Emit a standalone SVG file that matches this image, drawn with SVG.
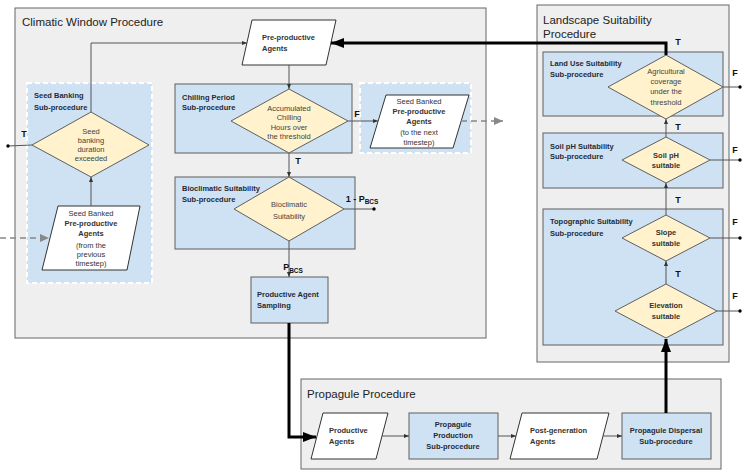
<svg xmlns="http://www.w3.org/2000/svg" width="748" height="475" viewBox="0 0 748 475">
<style>
.proc{fill:#efefef;stroke:#666;stroke-width:1}
.sub{fill:#cfe2f3;stroke:#5f5f5f;stroke-width:1}
.dash{fill:#cfe2f3;stroke:#fff;stroke-width:2;stroke-dasharray:5,3}
.dia{fill:#fff2cc;stroke:#5f5f5f;stroke-width:1}
.io{fill:#fff;stroke:#333;stroke-width:1}
text{font-family:"Liberation Sans",Arial,sans-serif}
.title{font-size:11.5px;fill:#222}
.lbl{font-size:7.5px;font-weight:bold;fill:#1f2a36}
.dt{font-size:7.5px;fill:#444;text-anchor:middle}
.dtb{font-size:7.5px;font-weight:bold;fill:#333;text-anchor:middle}
.iot{font-size:7.5px;fill:#333}
.c{text-anchor:middle}
.tf{font-size:9px;font-weight:bold;fill:#111;text-anchor:middle}
.sb{font-size:6.5px;font-weight:bold;fill:#111}
.ln{fill:none;stroke:#555;stroke-width:1}
.thick{fill:none;stroke:#000;stroke-width:3}
.dl{fill:none;stroke:#888;stroke-width:1.3;stroke-dasharray:6,4}
</style>
<defs>
<marker id="a" markerUnits="userSpaceOnUse" markerWidth="5" markerHeight="5" refX="5" refY="2.5" orient="auto"><path d="M0,0.5L5,2.5L0,4.5z" fill="#333"/></marker>
<marker id="ag" markerUnits="userSpaceOnUse" markerWidth="9" markerHeight="8" refX="9" refY="4" orient="auto"><path d="M0,0L9,4L0,8z" fill="#888"/></marker>
<marker id="ab" markerUnits="userSpaceOnUse" markerWidth="13" markerHeight="10" refX="13" refY="5" orient="auto"><path d="M0,0L13,5L0,10z" fill="#000"/></marker>
<marker id="d" markerUnits="userSpaceOnUse" markerWidth="4" markerHeight="4" refX="2" refY="2"><circle cx="2" cy="2" r="1.7" fill="#000"/></marker>
</defs>

<g id="climatic-window">
<rect class="proc" x="15" y="8" width="471" height="330"/>
<text class="title" x="22" y="26">Climatic Window Procedure</text>
</g>
<g id="landscape">
<rect class="proc" x="537" y="5" width="192" height="357"/>
<text class="title" x="543" y="24">Landscape Suitability</text>
<text class="title" x="543" y="37.5">Procedure</text>
</g>
<g id="propagule">
<rect class="proc" x="301" y="379" width="420" height="90"/>
<text class="title" x="307" y="398">Propagule Procedure</text>
</g>

<g id="seed-banking">
<rect class="dash" x="27" y="83" width="125" height="200"/>
<text class="lbl" x="34" y="98">Seed Banking</text>
<text class="lbl" x="34" y="110">Sub-procedure</text>
</g>
<g id="seed-banking-decision">
<polygon class="dia" points="91,112 149,145 91,177 32,145"/>
<text class="dt" x="91" y="133.5">Seed</text>
<text class="dt" x="91" y="142.8">banking</text>
<text class="dt" x="91" y="152">duration</text>
<text class="dt" x="91" y="161.3">exceeded</text>
</g>
<g id="seed-banked-prev">
<polygon class="io" points="58,206 140,206 127,270 42,270"/>
<text class="iot c" x="91" y="216">Seed Banked</text>
<text class="iot c" x="91" y="225.5" font-weight="bold">Pre-productive</text>
<text class="iot c" x="91" y="236" font-weight="bold">Agents</text>
<text class="iot c" x="91" y="247.7">(from the</text>
<text class="iot c" x="91" y="257">previous</text>
<text class="iot c" x="91" y="266">timestep)</text>
</g>

<g id="pre-productive">
<polygon class="io" points="252,20 336,20 326,65 242,65"/>
<text class="iot" x="262" y="40" font-weight="bold">Pre-productive</text>
<text class="iot" x="262" y="51" font-weight="bold">Agents</text>
</g>

<g id="chilling">
<rect class="sub" x="175" y="84" width="177" height="69"/>
<text class="lbl" x="182" y="99.5">Chilling Period</text>
<text class="lbl" x="182" y="110">Sub-procedure</text>
<polygon class="dia" points="289,89 348,121 289,153 231,121"/>
<text class="dt" x="289" y="111">Accumulated</text>
<text class="dt" x="289" y="120">Chilling</text>
<text class="dt" x="289" y="129.5">Hours over</text>
<text class="dt" x="289" y="138.7">the threshold</text>
</g>

<g id="seed-banked-next">
<rect class="dash" x="360" y="83" width="111" height="70"/>
<polygon class="io" points="386,95 469,95 453,148 370,148"/>
<text class="iot c" x="419" y="103.5">Seed Banked</text>
<text class="iot c" x="419" y="113.7" font-weight="bold">Pre-productive</text>
<text class="iot c" x="419" y="124.4" font-weight="bold">Agents</text>
<text class="iot c" x="419" y="135">(to the next</text>
<text class="iot c" x="419" y="145">timestep)</text>
</g>

<g id="bioclimatic">
<rect class="sub" x="175" y="177" width="180" height="72"/>
<text class="lbl" x="182" y="191">Bioclimatic Suitability</text>
<text class="lbl" x="182" y="202">Sub-procedure</text>
<polygon class="dia" points="289,177 344,209 289,241 234,209"/>
<text class="dt" x="289" y="207">Bioclimatic</text>
<text class="dt" x="289" y="219">Suitability</text>
</g>

<g id="sampling">
<rect class="sub" x="251" y="277" width="77" height="46"/>
<text class="lbl" x="257" y="297">Productive Agent</text>
<text class="lbl" x="257" y="308">Sampling</text>
</g>

<g id="land-use">
<rect class="sub" x="543" y="52" width="180" height="64"/>
<text class="lbl" x="550" y="66">Land Use Suitability</text>
<text class="lbl" x="550" y="77">Sub-procedure</text>
<polygon class="dia" points="666,55 723,87 666,119 608,87"/>
<text class="dt" x="666" y="73.5">Agricultural</text>
<text class="dt" x="666" y="83.7">coverage</text>
<text class="dt" x="666" y="94.4">under the</text>
<text class="dt" x="666" y="105.4">threshold</text>
</g>

<g id="soil-ph">
<rect class="sub" x="543" y="133" width="180" height="55"/>
<text class="lbl" x="550" y="148.5">Soil pH Suitability</text>
<text class="lbl" x="550" y="158.5">Sub-procedure</text>
<polygon class="dia" points="666,137 710,160 666,183 622,160"/>
<text class="dtb" x="666" y="157.7">Soil pH</text>
<text class="dtb" x="666" y="167.7">suitable</text>
</g>

<g id="topographic">
<rect class="sub" x="543" y="209" width="180" height="136"/>
<text class="lbl" x="550" y="224">Topographic Suitability</text>
<text class="lbl" x="550" y="236">Sub-procedure</text>
</g>
<g id="slope">
<polygon class="dia" points="666,215 710,238 666,261 622,238"/>
<text class="dtb" x="666" y="235.4">Slope</text>
<text class="dtb" x="666" y="246">suitable</text>
</g>
<g id="elevation">
<polygon class="dia" points="666,284 717,311 666,338 615,311"/>
<text class="dtb" x="666" y="308.4">Elevation</text>
<text class="dtb" x="666" y="319.4">suitable</text>
</g>

<g id="productive-agents">
<polygon class="io" points="323,413 388,413 376,459 311,459"/>
<text class="iot" x="329" y="433.4" font-weight="bold">Productive</text>
<text class="iot" x="329" y="443.7" font-weight="bold">Agents</text>
</g>
<g id="propagule-production">
<rect class="sub" x="409" y="413" width="89" height="46"/>
<text class="lbl c" x="453" y="427">Propagule</text>
<text class="lbl c" x="453" y="438.4">Production</text>
<text class="lbl c" x="453" y="449.4">Sub-procedure</text>
</g>
<g id="post-generation">
<polygon class="io" points="522,413 609,413 597,459 510,459"/>
<text class="iot" x="530" y="433.4" font-weight="bold">Post-generation</text>
<text class="iot" x="530" y="443.7" font-weight="bold">Agents</text>
</g>
<g id="propagule-dispersal">
<rect class="sub" x="622" y="413" width="89" height="46"/>
<text class="lbl c" x="666" y="433.4">Propagule Dispersal</text>
<text class="lbl c" x="666" y="443.7">Sub-procedure</text>
</g>

<g id="connectors">
<polyline class="ln" points="91,112 91,43 247,43" marker-end="url(#a)"/>
<line class="ln" x1="91" y1="206" x2="91" y2="177" marker-end="url(#a)"/>
<line class="ln" x1="32" y1="145" x2="8" y2="146" marker-end="url(#d)"/>
<line class="dl" x1="0" y1="238" x2="49" y2="238" marker-end="url(#ag)"/>
<line class="ln" x1="289" y1="65" x2="289" y2="89" marker-end="url(#a)"/>
<line class="ln" x1="348" y1="121" x2="378" y2="121" marker-end="url(#a)"/>
<line class="dl" x1="461" y1="121" x2="503" y2="121" marker-end="url(#ag)"/>
<line class="ln" x1="289" y1="153" x2="289" y2="177" marker-end="url(#a)"/>
<line class="ln" x1="344" y1="209" x2="374" y2="209" marker-end="url(#d)"/>
<line class="ln" x1="289" y1="241" x2="289" y2="277" marker-end="url(#a)"/>
<polyline class="thick" points="289,323 289,437 316,437" marker-end="url(#ab)"/>
<line class="ln" x1="382" y1="436" x2="409" y2="436" marker-end="url(#a)"/>
<line class="ln" x1="498" y1="436" x2="516" y2="436" marker-end="url(#a)"/>
<line class="ln" x1="603" y1="436" x2="622" y2="436" marker-end="url(#a)"/>
<line class="thick" x1="666" y1="413" x2="666" y2="339" marker-end="url(#ab)"/>
<line class="ln" x1="666" y1="284" x2="666" y2="261" marker-end="url(#a)"/>
<line class="ln" x1="666" y1="215" x2="666" y2="183" marker-end="url(#a)"/>
<line class="ln" x1="666" y1="137" x2="666" y2="119" marker-end="url(#a)"/>
<polyline class="thick" points="666,55 666,43 331,43" marker-end="url(#ab)"/>
<line class="ln" x1="723" y1="87" x2="740" y2="87" marker-end="url(#d)"/>
<line class="ln" x1="710" y1="160" x2="740" y2="160" marker-end="url(#d)"/>
<line class="ln" x1="710" y1="238" x2="740" y2="238" marker-end="url(#d)"/>
<line class="ln" x1="717" y1="311" x2="740" y2="311" marker-end="url(#d)"/>
<text class="tf" x="24" y="136.5">T</text>
<text class="tf" x="357" y="116.5">F</text>
<text class="tf" x="298" y="164">T</text>
<text class="tf" x="362" y="202" text-anchor="start">1 - P<tspan class="sb" dy="1.5">BCS</tspan></text>
<text class="tf" x="293" y="270" text-anchor="start">P<tspan class="sb" dy="3">BCS</tspan></text>
<text class="tf" x="678" y="44.5">T</text>
<text class="tf" x="735" y="75.5">F</text>
<text class="tf" x="678" y="129.5">T</text>
<text class="tf" x="735" y="152.5">F</text>
<text class="tf" x="678" y="202.5">T</text>
<text class="tf" x="735" y="224.5">F</text>
<text class="tf" x="678" y="276.5">T</text>
<text class="tf" x="735" y="298.5">F</text>
</g>
</svg>
